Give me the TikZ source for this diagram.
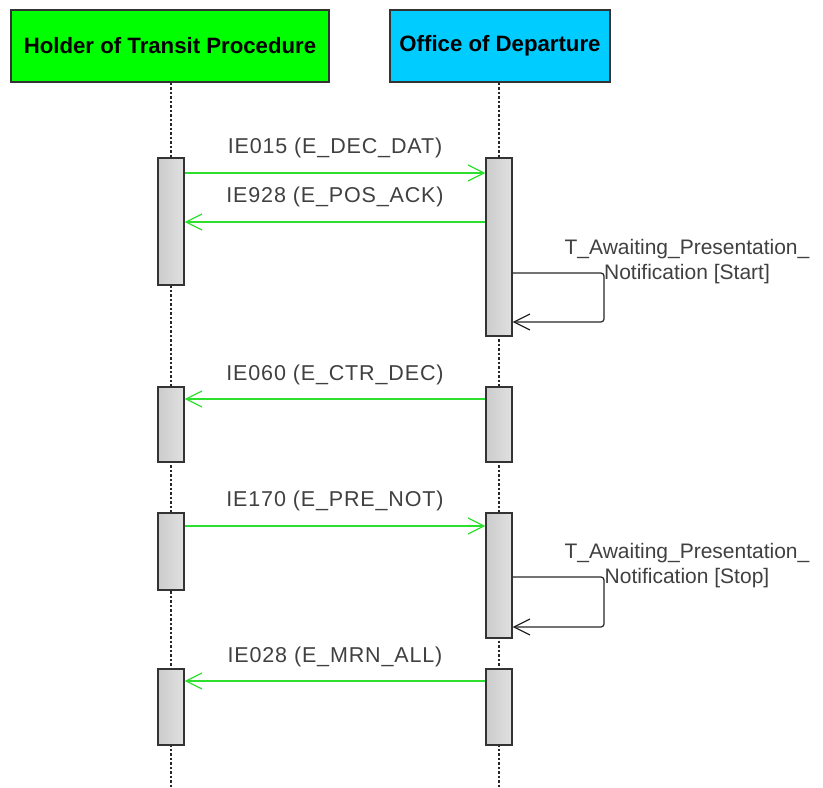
\documentclass[tikz,border=0pt]{standalone}
\usepackage{fontspec}
\setmainfont{Liberation Sans}
\usetikzlibrary{arrows.meta}
\definecolor{actgreen}{HTML}{00FF00}
\definecolor{actcyan}{HTML}{00CCFF}
\definecolor{msggreen}{HTML}{2EE02E}
\definecolor{lblgray}{HTML}{404040}

\begin{document}
\begin{tikzpicture}[x=1pt,y=-1pt,
  actor/.style={draw=black!80,line width=1.2pt,minimum height=72pt,inner sep=0pt,
    font=\fontsize{22.2}{26}\selectfont\bfseries},
  bar/.style={draw=black!80,line width=1.2pt,minimum width=26pt,inner sep=0pt,
    left color=black!20,right color=black!12},
  life/.style={black!85,line width=1.1pt,dash pattern=on 2.5pt off 2pt},
  msg/.style={msggreen,line width=1.5pt,-{Straight Barb[length=16pt,width=16pt,line width=1.2pt]}},
  self/.style={black!85,line width=1.2pt,rounded corners=3pt,-{Straight Barb[length=16pt,width=16pt,line width=1.2pt]}},
  lbl/.style={text=lblgray,font=\fontsize{21}{25}\selectfont,align=center},
  mlbl/.style={lbl,font=\fontsize{21.5}{25}\selectfont\addfontfeature{LetterSpace=4}}]

\useasboundingbox (0,0) rectangle (823,788);

% lifeline heads
\node[actor,fill=actgreen,minimum width=318pt] (holder) at (170,46) {Holder of Transit Procedure};
\node[actor,fill=actcyan,minimum width=220pt] (office) at (500,46) {Office of Departure};
\coordinate (hend) at (171,788);
\coordinate (oend) at (499,788);
\draw[life] (holder.south -| hend) -- (hend);
\draw[life] (office.south -| oend) -- (oend);

% activation bars
\foreach \n/\x/\a/\b in {h1/171/158/285,h2/171/387/462,h3/171/513/590,h4/171/669/745,
                         o1/499/158/336,o2/499/387/462,o3/499/513/638,o4/499/669/745}
  \node[bar,minimum height=\b-\a] (\n) at (\x,{(\a+\b)/2}) {};

% message levels
\coordinate (m1) at (0,173);
\coordinate (m2) at (0,222);
\coordinate (m3) at (0,399);
\coordinate (m4) at (0,526);
\coordinate (m5) at (0,681);

\draw[msg] (h1.east |- m1) -- (o1.west |- m1) node[mlbl,midway,yshift=25pt] {IE015 (E\_DEC\_DAT)};
\draw[msg] (o1.west |- m2) -- (h1.east |- m2) node[mlbl,midway,yshift=25pt] {IE928 (E\_POS\_ACK)};
\draw[msg] (o2.west |- m3) -- (h2.east |- m3) node[mlbl,midway,yshift=24pt] {IE060 (E\_CTR\_DEC)};
\draw[msg] (h3.east |- m4) -- (o3.west |- m4) node[mlbl,midway,yshift=25pt] {IE170 (E\_PRE\_NOT)};
\draw[msg] (o4.west |- m5) -- (h4.east |- m5) node[mlbl,midway,yshift=24pt] {IE028 (E\_MRN\_ALL)};

% timers
\draw[self] (o1.east |- 0,273) -- (604,273) -- (604,322) -- (o1.east |- 0,322);
\node[lbl] (t1) at (687,262) {T\_Awaiting\_Presentation\_\\Notification [Start]};
\draw[self] (o3.east |- 0,577) -- (604,577) -- (604,627) -- (o3.east |- 0,627);
\node[lbl] (t2) at (687,566) {T\_Awaiting\_Presentation\_\\Notification [Stop]};
\end{tikzpicture}
\end{document}
